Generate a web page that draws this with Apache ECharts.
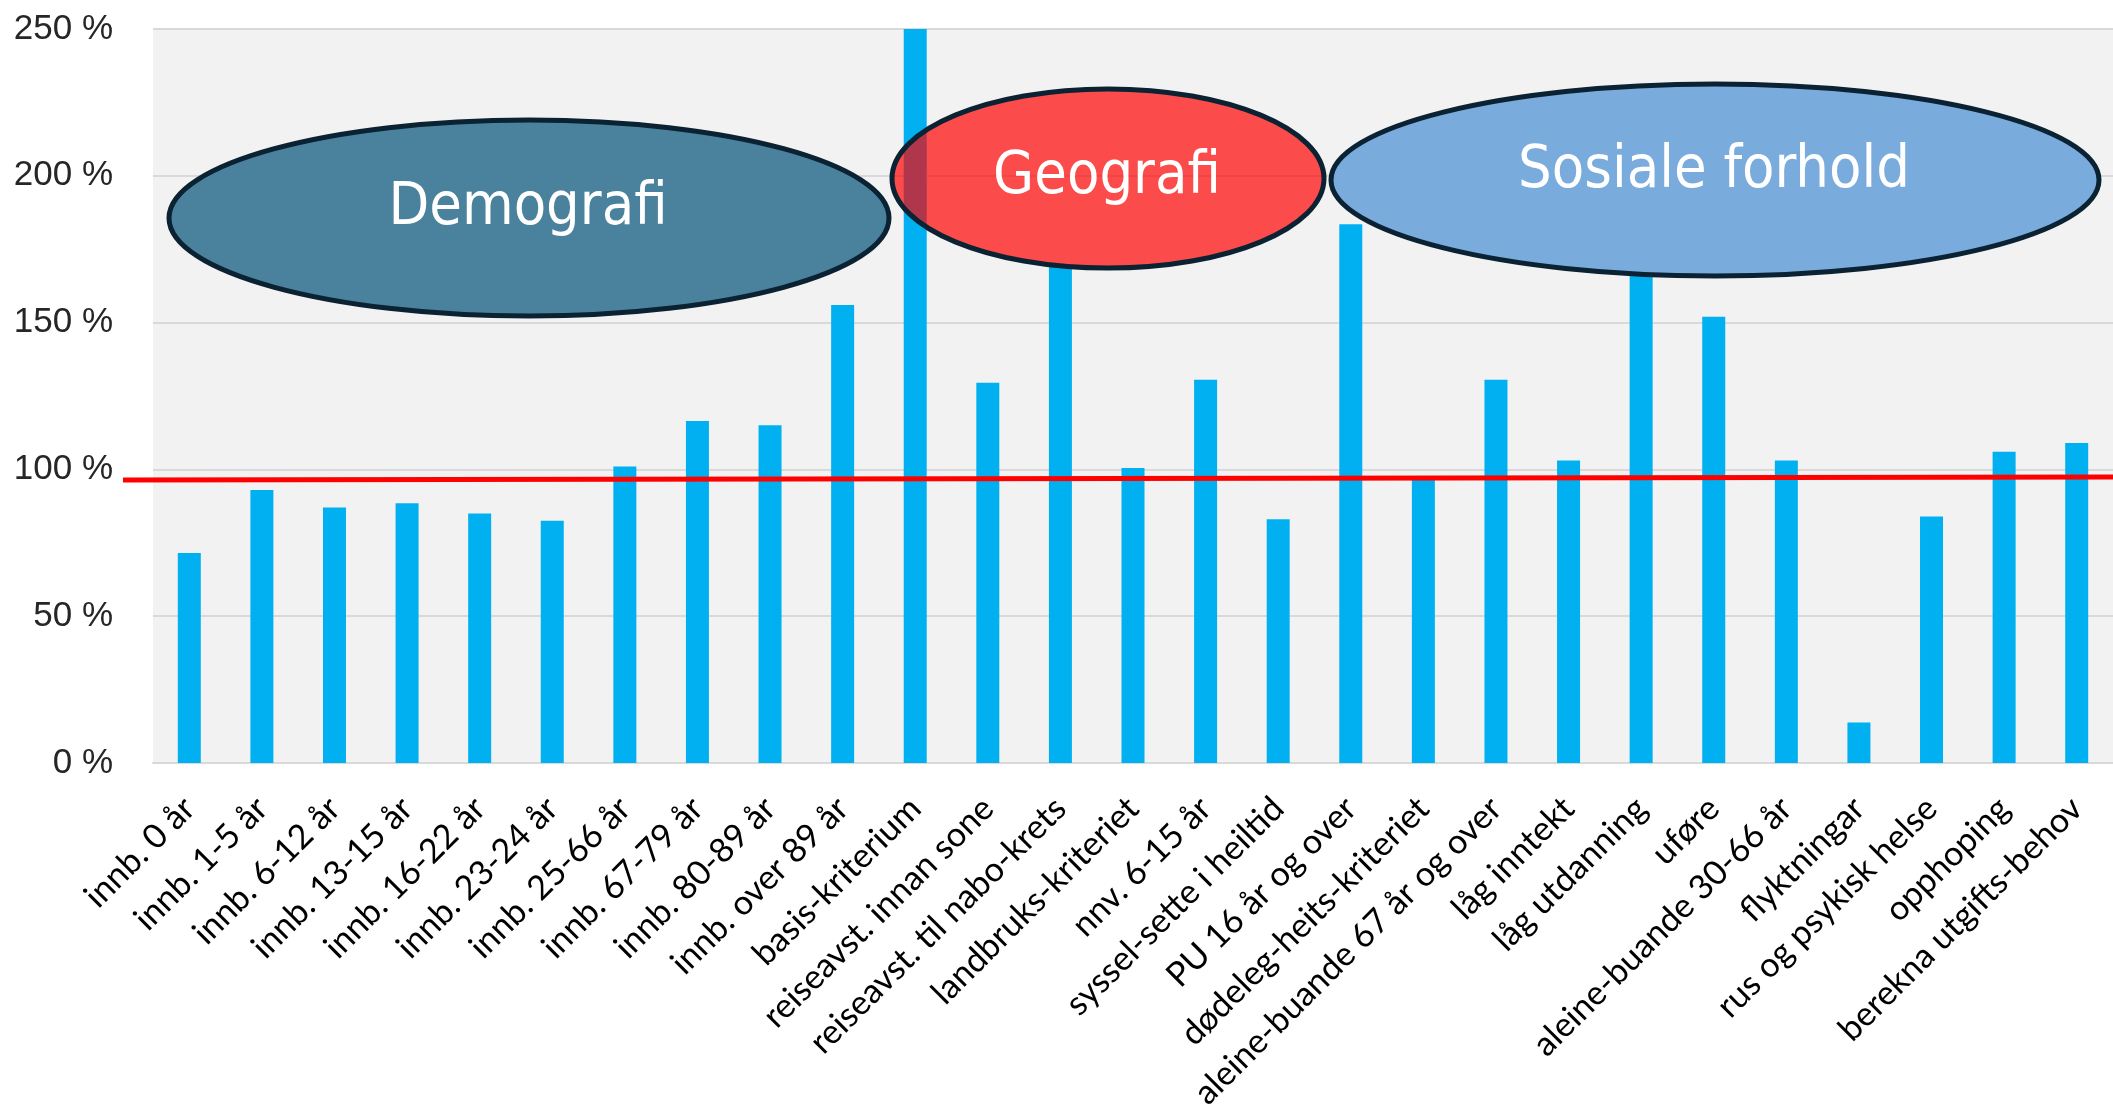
<!DOCTYPE html>
<html>
<head>
<meta charset="utf-8">
<script src="https://cdn.jsdelivr.net/npm/echarts@6/dist/echarts.min.js"></script>
<style>
html,body{margin:0;padding:0;background:#fff;}
#c{width:2113px;height:1117px;}
</style>
</head>
<body>
<div id="c"></div>
<script>
const categories = ['innb. 0 år','innb. 1-5 år','innb. 6-12 år','innb. 13-15 år','innb. 16-22 år','innb. 23-24 år','innb. 25-66 år','innb. 67-79 år','innb. 80-89 år','innb. over 89 år','basis-kriterium','reiseavst. innan sone','reiseavst. til nabo-krets','landbruks-kriteriet','nnv. 6-15 år','syssel-sette i heiltid','PU 16 år og over','dødeleg-heits-kriteriet','aleine-buande 67 år og over','låg inntekt','låg utdanning','uføre','aleine-buande 30-66 år','flyktningar','rus og psykisk helse','opphoping','berekna utgifts-behov'];
const values = [71.5, 93, 87, 88.5, 85, 82.5, 101, 116.5, 115, 156, 250, 129.5, 169, 100.5, 130.5, 83, 183.5, 97, 130.5, 103, 167, 152, 103, 13.8, 84, 106, 109];
const yTicks = [0, 50, 100, 150, 200, 250];
const refLine = [96.4, 97.4];
const groups = ['Demografi', 'Geografi', 'Sosiale forhold'];

const chart = echarts.init(document.getElementById('c'), null, {renderer:'canvas'});
chart.setOption({
  animation:false,
  backgroundColor:'#ffffff',
  grid:{left:153, right:0, top:29, bottom:354, show:true, backgroundColor:'#f2f2f2', borderWidth:0},
  xAxis:{
    type:'category', data:categories,
    axisTick:{show:false},
    axisLine:{lineStyle:{color:'#d9d9d9', width:2}},
    axisLabel:{interval:0, rotate:45, margin:40, fontFamily:'Lato', fontSize:34, color:'#000'}
  },
  yAxis:{
    type:'value', min:yTicks[0], max:yTicks[yTicks.length-1], interval:50,
    axisLine:{show:false}, axisTick:{show:false},
    splitLine:{lineStyle:{color:'#d9d9d9', width:2}},
    axisLabel:{formatter:'{value} %', fontFamily:'Liberation Sans', fontSize:35, color:'#262626', margin:40}
  },
  series:[{
    type:'bar', data:values, barWidth:23,
    itemStyle:{color:'#00B0F0'}
  }]
});

const y0 = chart.convertToPixel({yAxisIndex:0}, refLine[0]);
const y1 = chart.convertToPixel({yAxisIndex:0}, refLine[1]);
const font = (s)=> s + 'px "DejaVu Sans Condensed", "Open Sans", sans-serif';
const stroke = '#0b2233';
const ta = {textAlign:'center', textVerticalAlign:'middle', align:'center', verticalAlign:'middle'};
chart.setOption({
  graphic:[
    {type:'line', z:50, shape:{x1:123, y1:y0, x2:2113, y2:y1}, style:{stroke:'#ff0000', lineWidth:5}},
    {type:'ellipse', z:60, shape:{cx:529, cy:218, rx:360, ry:98}, style:{fill:'#4A819C', stroke:stroke, lineWidth:5}},
    {type:'text', z:61, style:Object.assign({text:groups[0], x:528, y:209, fill:'#fff', font:font(59)}, ta)},
    {type:'ellipse', z:60, shape:{cx:1108, cy:178.5, rx:216, ry:89.6}, style:{fill:'rgba(255,0,0,0.69)', stroke:stroke, lineWidth:5}},
    {type:'text', z:61, style:Object.assign({text:groups[1], x:1107, y:178, fill:'#fff', font:font(59)}, ta)},
    {type:'ellipse', z:60, shape:{cx:1715, cy:180, rx:384, ry:96}, style:{fill:'#7AABDD', stroke:stroke, lineWidth:5}},
    {type:'text', z:61, style:Object.assign({text:groups[2], x:1714, y:172, fill:'#fff', font:font(59)}, ta)}
  ]
});
</script>
</body>
</html>
